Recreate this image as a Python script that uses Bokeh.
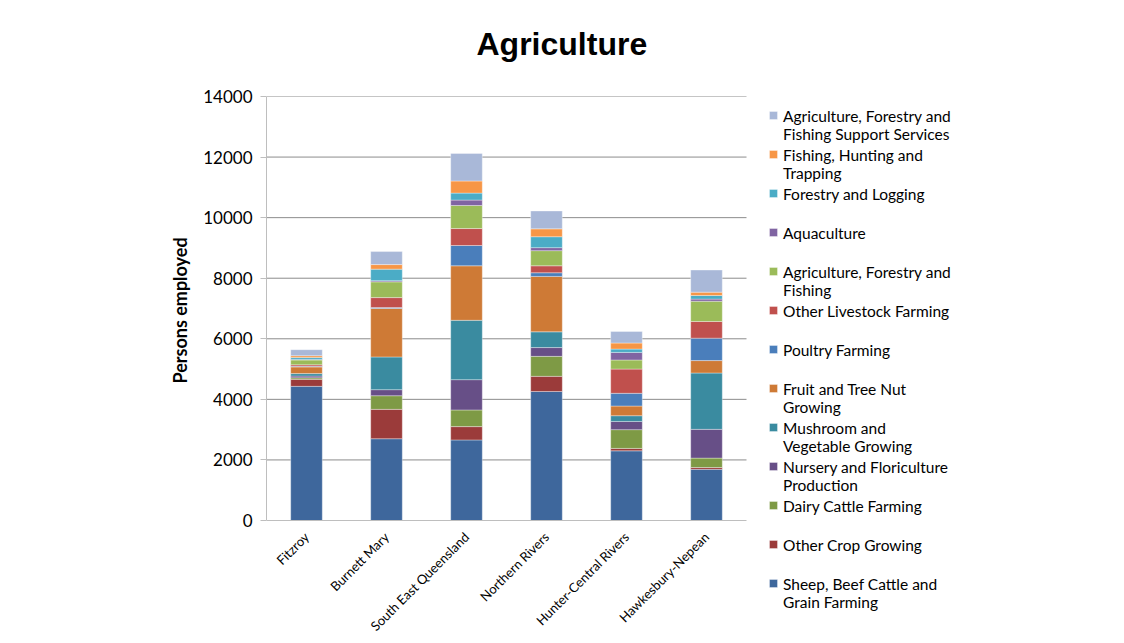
import math
from bokeh.plotting import figure
from bokeh.models import (Legend, LegendItem, ColumnDataSource, FixedTicker, Title,
                          FactorRange, Range1d)
from bokeh.embed import file_html
from bokeh.resources import INLINE

regions = ["Fitzroy", "Burnett Mary", "South East Queensland", "Northern Rivers",
           "Hunter-Central Rivers", "Hawkesbury-Nepean"]

series_names = [
    "Sheep, Beef Cattle and\nGrain Farming",
    "Other Crop Growing",
    "Dairy Cattle Farming",
    "Nursery and Floriculture\nProduction",
    "Mushroom and\nVegetable Growing",
    "Fruit and Tree Nut\nGrowing",
    "Poultry Farming",
    "Other Livestock Farming",
    "Agriculture, Forestry and\nFishing",
    "Aquaculture",
    "Forestry and Logging",
    "Fishing, Hunting and\nTrapping",
    "Agriculture, Forestry and\nFishing Support Services",
]

sheep_beef_grain = [4430, 2700, 2660, 4260, 2300, 1690]
other_crop = [230, 970, 440, 500, 80, 60]
dairy_cattle = [50, 450, 550, 660, 620, 310]
nursery_floriculture = [60, 200, 1000, 290, 270, 950]
mushroom_vegetable = [80, 1080, 1960, 520, 190, 1860]
fruit_tree_nut = [220, 1600, 1800, 1830, 320, 410]
poultry = [20, 30, 670, 120, 420, 740]
other_livestock = [50, 330, 560, 230, 800, 550]
agri_forestry_fishing = [160, 520, 760, 500, 300, 670]
aquaculture = [20, 40, 180, 100, 250, 70]
forestry_logging = [60, 380, 230, 360, 110, 120]
fishing_hunting = [60, 150, 400, 260, 200, 110]
support_services = [200, 430, 910, 590, 380, 730]

series_values = [sheep_beef_grain, other_crop, dairy_cattle, nursery_floriculture,
                 mushroom_vegetable, fruit_tree_nut, poultry, other_livestock,
                 agri_forestry_fishing, aquaculture, forestry_logging,
                 fishing_hunting, support_services]

colors = ["#3E679C", "#9B3B3A", "#7E9A45", "#674F87", "#3A8BA0", "#CE7A36",
          "#4A7EBB", "#C0504D", "#9BBB59", "#8064A2", "#4BACC6", "#F79646",
          "#A9B8D8"]

y_ticks = [0, 2000, 4000, 6000, 8000, 10000, 12000, 14000]
y_max = 14000

# layout (pixels): plot area 480x424 px, legend area to its right, labels below
plot_px_w, plot_px_h = 480, 424
below_px = 123
legend_px_w = 240
n_pad = legend_px_w // (plot_px_w // len(regions))
pad_factors = [" " * (i + 1) for i in range(n_pad)]

keys = [f"s{i}" for i in range(len(series_values))]
data = {"region": regions}
for k, v in zip(keys, series_values):
    data[k] = v
source = ColumnDataSource(data)

y_lo = -y_max * below_px / plot_px_h
p = figure(x_range=FactorRange(factors=regions + pad_factors, range_padding=0),
           y_range=Range1d(y_lo, y_max),
           frame_width=plot_px_w + n_pad * (plot_px_w // len(regions)),
           frame_height=plot_px_h + below_px,
           output_backend="svg", toolbar_location=None,
           min_border_left=266, min_border_right=0,
           min_border_top=96, min_border_bottom=0)
p.background_fill_color = "white"
p.border_fill_color = "white"
p.outline_line_color = None
p.xgrid.grid_line_color = None
p.ygrid.grid_line_color = None

# horizontal gridlines across the category area only
grid_src = ColumnDataSource(dict(y=y_ticks[1:], x0=[0] * (len(y_ticks) - 1),
                                 x1=[len(regions)] * (len(y_ticks) - 1)))
p.segment(x0="x0", x1="x1", y0="y", y1="y", source=grid_src,
          line_color="#8C8C8C", line_width=1)

renderers = p.vbar_stack(keys, x="region", width=0.395, source=source,
                         color=colors, line_color="white", line_alpha=0.35,
                         line_width=1)

# invisible, empty renderer that only carries the legend text entries
text_carrier = p.vbar(x=[], top=[], width=0.1, fill_alpha=0, line_alpha=0)

p.yaxis.ticker = FixedTicker(ticks=y_ticks)
p.yaxis.bounds = (0, y_max)
p.yaxis.axis_line_color = "#BEBEBE"
p.yaxis.major_tick_line_color = "#BEBEBE"
p.yaxis.major_tick_in = 0
p.yaxis.major_tick_out = 6
p.yaxis.minor_tick_line_color = None
p.yaxis.major_label_text_font = "Lato"
p.yaxis.major_label_text_font_size = "17px"
p.yaxis.major_label_text_color = "#000000"
p.yaxis.major_label_standoff = 8

# y-axis title, placed beside the value axis (not the whole frame)
p.add_layout(Title(text="Persons employed", text_font="Lato", text_font_size="18px",
                   text_font_style="bold", text_color="#000000", align="left",
                   offset=260, standoff=20), "left")

p.xaxis.fixed_location = 0
p.xaxis.bounds = (0, len(regions))
p.xaxis.axis_line_color = "#BEBEBE"
p.xaxis.major_tick_line_color = None
p.xaxis.minor_tick_line_color = None
p.xaxis.major_label_orientation = math.pi / 4
p.xaxis.major_label_text_font = "Lato"
p.xaxis.major_label_text_font_size = "13px"
p.xaxis.major_label_text_color = "#000000"
p.xaxis.major_label_standoff = 8

def style_legend(lg):
    lg.padding = 0
    lg.margin = 0
    lg.spacing = 0
    lg.label_height = 39
    lg.border_line_color = None
    lg.background_fill_alpha = 0

# swatches, one per series (top entry = last series)
swatch_items = [LegendItem(label=" ", renderers=[r]) for r in renderers][::-1]
legend_a = Legend(items=swatch_items, location=(502, 40.5))
style_legend(legend_a)
legend_a.label_text_font_size = "14px"
legend_a.glyph_width = 10
legend_a.glyph_height = 10
legend_a.label_standoff = 0

# texts, two lines per entry, first line level with its swatch
text_labels = [n if "\n" in n else n + "\n " for n in series_names][::-1]
text_items = [LegendItem(label=t, renderers=[text_carrier]) for t in text_labels]
legend_b = Legend(items=text_items, location=(516, 30.75))
style_legend(legend_b)
legend_b.label_text_font = "Lato"
legend_b.label_text_font_size = "15.5px"
legend_b.label_text_line_height = 1.365
legend_b.label_text_color = "#000000"
legend_b.glyph_width = 1
legend_b.glyph_height = 1
legend_b.label_standoff = 0

p.add_layout(legend_a, "center")
p.add_layout(legend_b, "center")

# spacer between plot frame and title, then the title itself (outermost)
p.add_layout(Title(text=" ", text_font_size="10px", standoff=22), "above")
p.add_layout(Title(text="Agriculture", text_font="Liberation Sans", text_font_size="32px",
                   text_font_style="bold", text_color="#000000", align="left",
                   offset=210, standoff=0), "above")

open("out.html", "w").write(file_html(p, INLINE))
